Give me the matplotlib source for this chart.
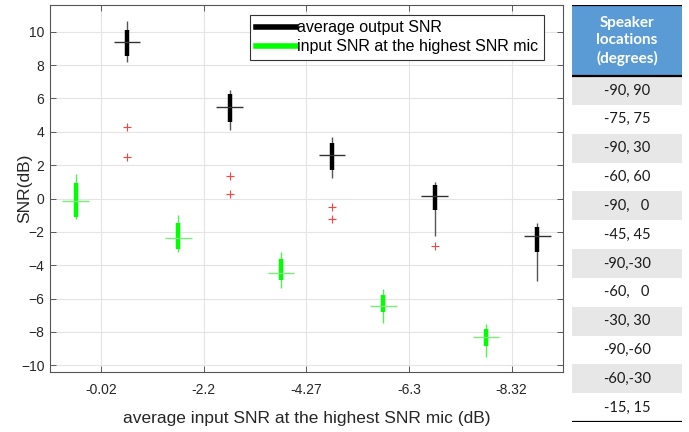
import numpy as np
import matplotlib
matplotlib.use("Agg")
import matplotlib.pyplot as plt
from matplotlib.lines import Line2D

plt.rcParams['font.family'] = ['Liberation Sans', 'DejaVu Sans']

# x axis categories (average input SNR at highest SNR mic)
xtick_labels = ['-0.02', '-2.2', '-4.27', '-6.3', '-8.32']

# average output SNR boxes
out_whishi = [10.62, 6.50, 3.67, 0.98, -1.49]
out_q3     = [10.08, 6.27, 3.35, 0.78, -1.73]
out_med    = [9.38, 5.50, 2.63, 0.18, -2.27]
out_q1     = [8.55, 4.56, 1.70, -0.66, -3.19]
out_whislo = [8.17, 4.10, 1.22, -2.27, -4.94]
out_fliers = [[4.28, 2.47], [1.33, 0.28], [-0.53, -1.20], [-2.83], []]

# input SNR at the highest SNR mic boxes
in_whishi = [1.45, -0.98, -3.23, -5.40, -7.51]
in_q3     = [0.92, -1.45, -3.63, -5.77, -7.81]
in_med    = [-0.12, -2.39, -4.48, -6.45, -8.33]
in_q1     = [-1.12, -3.03, -4.86, -6.81, -8.84]
in_whislo = [-1.25, -3.23, -5.38, -7.45, -9.50]

# table next to the plot
table_header = 'Speaker\nlocations\n(degrees)'
table_rows = ['-90, 90', '-75, 75', '-90, 30', '-60, 60', '-90,   0', '-45, 45',
              '-90,-30', '-60,   0', '-30, 30', '-90,-60', '-60,-30', '-15, 15']

W, H = 689, 432
fig = plt.figure(figsize=(W / 100, H / 100), dpi=100)
ax = fig.add_axes([50 / W, 1 - 372 / H, 513 / W, 367 / H])

pos_in = np.arange(1, 11, 2)
pos_out = np.arange(2, 12, 2)
halfw = 0.26


def draw_boxes(pos, lo, q1, med, q3, hi, col, wcol, mcol):
    ax.vlines(pos, lo, hi, color=wcol, lw=1.0, zorder=3)
    ax.vlines(pos, q1, q3, color=col, lw=3.2, zorder=4)
    ax.hlines(med, pos - halfw, pos + halfw, color=mcol, lw=1.0, zorder=5)


draw_boxes(pos_in, in_whislo, in_q1, in_med, in_q3, in_whishi,
           '#00ff00', '#55ee55', '#77ee77')
draw_boxes(pos_out, out_whislo, out_q1, out_med, out_q3, out_whishi,
           'black', '#555555', '#333333')

for p, fl in zip(pos_out, out_fliers):
    if fl:
        ax.plot([p] * len(fl), fl, ls='none', marker='+', ms=6, mew=0.8,
                color='#ff4040', zorder=6)

ax.set_xlim(0.5, 10.5)
ax.set_ylim(-10.4, 11.6)
ax.set_xticks(np.arange(1.5, 10, 2))
ax.set_xticklabels(xtick_labels)
ax.set_yticks(np.arange(-10, 11, 2))
ax.grid(True, color='#e4e4e4', lw=0.8)
ax.set_axisbelow(True)
ax.tick_params(direction='in', top=True, right=True, length=4, width=0.6,
               color='#444444', labelcolor='#262626', labelsize=10)
ax.tick_params(axis='x', pad=8)
ax.tick_params(axis='y', pad=4)
for s in ax.spines.values():
    s.set_color('#555555')
    s.set_linewidth(0.8)

ax.set_xlabel('average input SNR at the highest SNR mic (dB)', fontsize=12.5,
              color='#262626', labelpad=10)
ax.set_ylabel('SNR(dB)', fontsize=12.5, color='#262626')
ax.yaxis.set_label_coords(-0.035, 0.5)

handles = [Line2D([0], [0], color='black', lw=4),
           Line2D([0], [0], color='#00ff00', lw=4)]
leg = ax.legend(handles, ['average output SNR', 'input SNR at the highest SNR mic'],
                loc='upper right', bbox_to_anchor=(0.963, 0.973), borderaxespad=0,
                fontsize=11.5, fancybox=False, framealpha=1, edgecolor='#333333',
                handlelength=2.5, handletextpad=0.1, borderpad=0.35,
                labelspacing=0.25)
leg.get_frame().set_linewidth(0.8)

# table
tax = fig.add_axes([572 / W, 1 - 422 / H, 110 / W, 417 / H])
hdr = 71 / 28.8
tax.set_xlim(0, 1)
tax.set_ylim(len(table_rows), -hdr)
tax.axis('off')
tax.axhspan(-hdr, 0, color='#5b9bd5', lw=0)
tax.text(0.5, -hdr / 2, table_header, ha='center', va='center', color='white',
         fontsize=11, fontweight='bold', family=['Lato', 'DejaVu Sans'],
         linespacing=1.3)
for i, r in enumerate(table_rows):
    if i % 2 == 0:
        tax.axhspan(i, i + 1, color='#e7e7e7', lw=0)
    tax.text(0.5, i + 0.5, r, ha='center', va='center', color='#1a1a1a',
             fontsize=10.5, family=['Lato', 'DejaVu Sans'])
tax.axhline(-hdr, color='black', lw=1.6)
tax.axhline(0, color='black', lw=1.6)
tax.axhline(len(table_rows), color='black', lw=1.6)

fig.savefig('out.png', dpi=100)
